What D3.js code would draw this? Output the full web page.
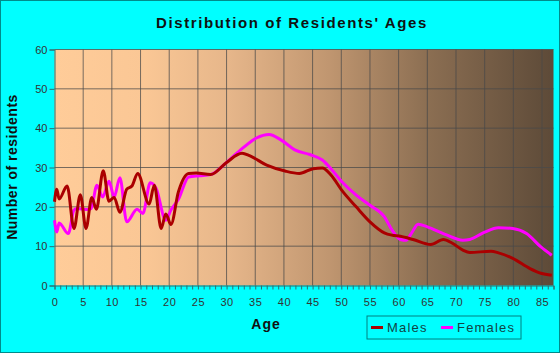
<!DOCTYPE html>
<html>
<head>
<meta charset="utf-8">
<script src="https://cdn.jsdelivr.net/npm/d3@7"></script>
<style>
  body { margin: 0; background: #00ffff; }
  svg { display: block; font-family: "Liberation Sans", Arial, sans-serif; }
</style>
</head>
<body>
<div class="chart"></div>
<script>
// data (age, number of residents)
var maleAges = [0, 0.4, 0.8, 2.2, 3.4, 4.5, 5.5, 6.5, 7.3, 8.5, 9.5, 10.4, 11.4, 12.6, 13.5, 14.5, 16.5, 17.4, 18.6, 19.4, 20.3, 21.6, 23.4, 24.7, 27.2, 30, 32.7, 34, 37, 40.2, 42.7, 45.1, 46.7, 48.2, 50.1, 52.6, 55, 57.5, 58.8, 60.3, 62.5, 65.6, 67.8, 69.3, 71.2, 72.4, 76.1, 77.4, 79.9, 82.9, 84.8, 86.7];
var maleCounts = [21.3, 24.5, 22, 25.3, 14.5, 23.1, 14.5, 22.4, 19.4, 29.2, 21.4, 22.4, 18.6, 24.5, 25.3, 28.5, 20.7, 25.5, 14.5, 18.2, 15.5, 23.8, 28.5, 28.6, 28.2, 31.3, 33.6, 33, 30.6, 29.1, 28.5, 29.7, 29.9, 28.1, 24.2, 20, 16.2, 13.4, 12.8, 12.5, 11.7, 10.4, 11.7, 10.8, 9, 8.4, 8.7, 8.3, 6.9, 4.3, 3.1, 2.6];

var femaleAges = [0, 0.4, 0.8, 2.4, 3.4, 3.9, 5.8, 6.4, 7.4, 8.4, 9.5, 10.4, 11.4, 12.6, 14.4, 15.4, 16.7, 17.7, 19.4, 20.3, 21.6, 23.4, 25.3, 27.2, 30, 32.7, 35.2, 37.4, 39.6, 42, 44.5, 46.7, 48.2, 50.1, 52.6, 55, 57.5, 58.8, 60.3, 61.3, 62.2, 63.4, 65, 68.1, 71.2, 72.4, 74.9, 77.4, 79.9, 82.3, 84.8, 86.7];
var femaleCounts = [16.6, 13.6, 15.9, 13.2, 19.2, 19.6, 19.3, 19.6, 25.5, 22.5, 26.5, 22.5, 27.4, 16.2, 19.4, 18.3, 26.1, 24.7, 16.6, 19.2, 21.9, 27.6, 27.9, 28.2, 31.3, 34.8, 37.5, 38.4, 36.9, 34.4, 33.3, 31.9, 29.7, 26.4, 23, 20.4, 17.5, 14.2, 11.7, 11.5, 13.2, 15.6, 14.9, 13, 11.5, 11.7, 13.5, 14.7, 14.5, 13.2, 9.8, 7.7];

var xTicks = d3.range(0, 86, 5);
var yTicks = [0, 10, 20, 30, 40, 50, 60];

var W = 560, H = 353;
var margin = {top: 49.5, right: 6.5, bottom: 67.5, left: 54.5};
var width = W - margin.left - margin.right,
    height = H - margin.top - margin.bottom;

var svg = d3.select(".chart")
  .append("svg")
    .attr("width", W)
    .attr("height", H);

// background + border
svg.append("rect")
  .attr("x", 0.5).attr("y", 0.5)
  .attr("width", W - 1).attr("height", H - 1)
  .attr("fill", "#00ffff")
  .attr("stroke", "#008b8b");

// plot gradient
var grad = svg.append("defs").append("linearGradient")
  .attr("id", "bg").attr("x1", "0").attr("x2", "1").attr("y1", "0").attr("y2", "0");
[[0, "#ffcc99"], [0.18, "#fac795"], [0.35, "#e6b68a"], [0.55, "#c09670"], [0.75, "#8b6e52"], [1, "#5d4a38"]]
  .forEach(function(s) {
    grad.append("stop").attr("offset", s[0]).attr("stop-color", s[1]);
  });

var g = svg.append("g")
  .attr("transform", "translate(" + margin.left + "," + margin.top + ")");

var x = d3.scaleLinear().domain([0, 87]).range([0, width]);
var y = d3.scaleLinear().domain([0, 60]).range([height, 0]);

g.append("rect")
  .attr("width", width).attr("height", height)
  .attr("fill", "url(#bg)");

// grid
g.append("g")
  .selectAll("line")
  .data(xTicks.filter(d => d > 0))
  .join("line")
    .attr("x1", d => x(d)).attr("x2", d => x(d))
    .attr("y1", 0).attr("y2", height)
    .attr("stroke", "#4a4a4a").attr("stroke-opacity", 0.75);
g.append("g")
  .selectAll("line")
  .data(yTicks.filter(d => d > 0))
  .join("line")
    .attr("x1", 0).attr("x2", width)
    .attr("y1", d => y(d)).attr("y2", d => y(d))
    .attr("stroke", "#4a4a4a").attr("stroke-opacity", 0.75);

// axes
var xAxis = g.append("g")
  .attr("transform", "translate(0," + height + ")")
  .call(d3.axisBottom(x).tickValues(d3.range(0, 88, 1)).tickSize(4).tickFormat(""));
var xLab = g.append("g")
  .attr("transform", "translate(0," + height + ")")
  .call(d3.axisBottom(x).tickValues(xTicks).tickSize(0).tickPadding(13));
var yAxis = g.append("g")
  .call(d3.axisLeft(y).tickValues(yTicks).tickSize(5).tickPadding(2));

[xAxis, xLab, yAxis].forEach(function(a) {
  a.select(".domain").attr("stroke", "#2f6f6f");
  a.selectAll(".tick line").attr("stroke", "#2f6f6f");
  a.selectAll("text").attr("fill", "#333").attr("font-size", "11px")
    .attr("font-family", "'Liberation Sans', Arial, sans-serif");
});
xLab.select(".domain").remove();
xLab.selectAll("text").attr("letter-spacing", "0.5px");

// lines
var line = d3.line()
  .x(d => x(d[0]))
  .y(d => y(d[1]))
  .curve(d3.curveMonotoneX);

g.append("path")
  .datum(d3.zip(femaleAges, femaleCounts))
  .attr("fill", "none")
  .attr("stroke", "#ff00ff")
  .attr("stroke-width", 3)
  .attr("d", line);

g.append("path")
  .datum(d3.zip(maleAges, maleCounts))
  .attr("fill", "none")
  .attr("stroke", "#aa0000")
  .attr("stroke-width", 3)
  .attr("d", line);

// title
svg.append("text")
  .attr("x", 292).attr("y", 28)
  .attr("text-anchor", "middle")
  .attr("font-size", "15px").attr("font-weight", "bold")
  .attr("letter-spacing", "1.6px")
  .attr("fill", "#111")
  .text("Distribution of Residents' Ages");

svg.append("text")
  .attr("transform", "translate(17,167) rotate(-90)")
  .attr("text-anchor", "middle")
  .attr("font-size", "14px").attr("font-weight", "bold")
  .attr("letter-spacing", "0.5px")
  .attr("fill", "#111")
  .text("Number of residents");

svg.append("text")
  .attr("x", 266).attr("y", 329)
  .attr("text-anchor", "middle")
  .attr("font-size", "14px").attr("font-weight", "bold")
  .attr("letter-spacing", "1px")
  .attr("fill", "#111")
  .text("Age");

// legend
var leg = svg.append("g").attr("transform", "translate(367,316)");
leg.append("rect")
  .attr("width", 154).attr("height", 23)
  .attr("fill", "none").attr("stroke", "#008080");
[["Males", "#aa0000", 4], ["Females", "#ff00ff", 74]].forEach(function(s) {
  leg.append("line")
    .attr("x1", s[2]).attr("x2", s[2] + 12)
    .attr("y1", 11.5).attr("y2", 11.5)
    .attr("stroke", s[1]).attr("stroke-width", 3);
  leg.append("text")
    .attr("x", s[2] + 16).attr("y", 16)
    .attr("font-size", "13px")
    .attr("letter-spacing", "1.2px")
    .attr("fill", "#114444")
    .text(s[0]);
});
</script>
</body>
</html>
